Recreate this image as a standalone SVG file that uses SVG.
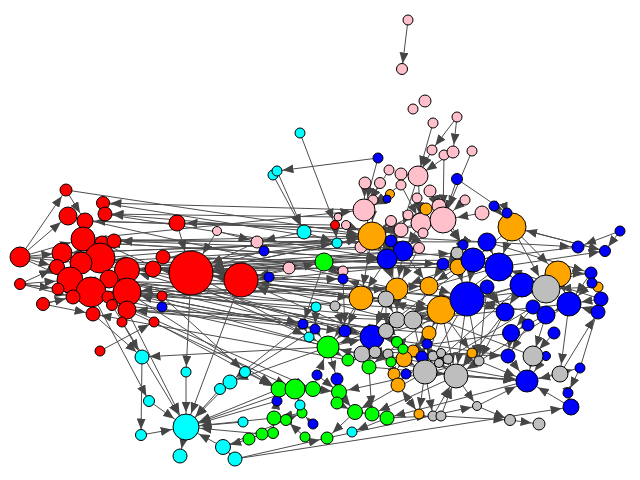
<svg xmlns="http://www.w3.org/2000/svg" width="640" height="480" viewBox="0 0 640 480">
<style>
#edges path{stroke:#4d4d4d;stroke-width:1;fill:none}
.e5{marker-end:url(#a5)}.e7{marker-end:url(#a7)}.e9{marker-end:url(#a9)}.e12{marker-end:url(#a12)}.e14{marker-end:url(#a14)}.e17{marker-end:url(#a17)}.e22{marker-end:url(#a22)}
circle{stroke:#000;stroke-width:1}
.r{fill:#ff0000}.p{fill:#ffc0cb}.b{fill:#0000ff}.o{fill:#ffa500}.g{fill:#bebebe}.n{fill:#00ff00}.c{fill:#00ffff}
marker path{fill:#454545}
</style>
<defs>
<marker id="a5" viewBox="0 0 11 9" markerWidth="11" markerHeight="9" refX="16.5" refY="4.5" orient="auto" markerUnits="userSpaceOnUse"><path d="M0,0L11,4.5L0,9z"/></marker>
<marker id="a7" viewBox="0 0 11 9" markerWidth="11" markerHeight="9" refX="18.5" refY="4.5" orient="auto" markerUnits="userSpaceOnUse"><path d="M0,0L11,4.5L0,9z"/></marker>
<marker id="a9" viewBox="0 0 11 9" markerWidth="11" markerHeight="9" refX="20.5" refY="4.5" orient="auto" markerUnits="userSpaceOnUse"><path d="M0,0L11,4.5L0,9z"/></marker>
<marker id="a12" viewBox="0 0 11 9" markerWidth="11" markerHeight="9" refX="23.5" refY="4.5" orient="auto" markerUnits="userSpaceOnUse"><path d="M0,0L11,4.5L0,9z"/></marker>
<marker id="a14" viewBox="0 0 11 9" markerWidth="11" markerHeight="9" refX="25.5" refY="4.5" orient="auto" markerUnits="userSpaceOnUse"><path d="M0,0L11,4.5L0,9z"/></marker>
<marker id="a17" viewBox="0 0 11 9" markerWidth="11" markerHeight="9" refX="28.5" refY="4.5" orient="auto" markerUnits="userSpaceOnUse"><path d="M0,0L11,4.5L0,9z"/></marker>
<marker id="a22" viewBox="0 0 11 9" markerWidth="11" markerHeight="9" refX="33.5" refY="4.5" orient="auto" markerUnits="userSpaceOnUse"><path d="M0,0L11,4.5L0,9z"/></marker>
</defs>
<rect width="640" height="480" fill="#fff"/>
<g id="edges">
<path class="e9" d="M20 257L68 216"/><path class="e12" d="M20 257L83 239"/><path class="e9" d="M20 257L62 253"/><path class="e12" d="M20 257L81 263"/><path class="e7" d="M20 257L57 267"/><path class="e14" d="M20 257L70 280"/><path class="e14" d="M20 257L100 258"/><path class="e7" d="M20 257L66 190"/>
<path class="e7" d="M20 284L57 267"/><path class="e14" d="M20 284L70 280"/><path class="e7" d="M20 284L58 289"/><path class="e7" d="M20 284L73 297"/><path class="e14" d="M20 284L91 292"/>
<path class="e7" d="M43 304L73 297"/><path class="e14" d="M43 304L91 292"/><path class="e7" d="M43 304L93 314"/><path class="e9" d="M66 190L85 221"/>
<path class="e14" d="M66 190L372 236"/><path class="e7" d="M364 210L103 203"/><path class="e7" d="M372 236L105 214"/><path class="e9" d="M397 289L68 216"/><path class="e9" d="M401 230L85 221"/><path class="e12" d="M337 243L83 239"/><path class="e7" d="M387 259L102 243"/><path class="e7" d="M403 251L114 241"/><path class="e14" d="M467 299L100 258"/><path class="e12" d="M441 310L81 263"/><path class="e12" d="M324 262L127 270"/><path class="e12" d="M345 331L127 270"/><path class="e14" d="M473 260L127 292"/><path class="e14" d="M361 298L100 258"/><path class="e14" d="M372 337L91 292"/><path class="e14" d="M328 347L127 292"/><path class="e9" d="M386 331L109 279"/><path class="e14" d="M397 289L70 280"/><path class="e9" d="M397 320L127 310"/><path class="e7" d="M429 286L108 297"/><path class="e9" d="M386 299L153 269"/><path class="e9" d="M343 279L153 269"/><path class="e12" d="M499 267L127 270"/><path class="e7" d="M487 242L114 241"/><path class="e9" d="M103 203L403 251"/><path class="e9" d="M335 225L177 223"/><path class="e7" d="M338 217L105 214"/><path class="e9" d="M391 241L62 253"/><path class="e12" d="M361 247L81 263"/><path class="e14" d="M315 329L127 292"/><path class="e9" d="M303 324L127 310"/><path class="e14" d="M316 307L91 292"/><path class="e9" d="M335 306L109 279"/><path class="e5" d="M429 333L112 305"/><path class="e7" d="M348 360L93 314"/><path class="e7" d="M362 354L108 297"/><path class="e7" d="M443 264L163 257"/>
<path class="e17" d="M289 268L241 280"/><path class="e17" d="M269 277L241 280"/><path class="e22" d="M264 251L191 273"/><path class="e22" d="M257 242L191 273"/><path class="e22" d="M372 236L191 273"/><path class="e22" d="M387 259L191 273"/><path class="e22" d="M324 262L191 273"/><path class="e22" d="M241 280L191 273"/><path class="e17" d="M372 337L241 280"/><path class="e17" d="M361 298L241 280"/><path class="e22" d="M403 251L191 273"/><path class="e22" d="M443 264L191 273"/>
<path class="e14" d="M100 258L372 236"/><path class="e9" d="M127 270L403 251"/><path class="e9" d="M127 292L413 320"/><path class="e12" d="M91 292L397 289"/><path class="e14" d="M191 273L372 236"/><path class="e9" d="M191 273L387 259"/><path class="e9" d="M241 280L324 262"/><path class="e5" d="M241 280L343 279"/><path class="e14" d="M191 273L441 310"/><path class="e17" d="M191 273L467 299"/><path class="e9" d="M241 280L397 320"/><path class="e12" d="M191 273L328 347"/><path class="e12" d="M100 258L372 337"/><path class="e12" d="M83 239L364 210"/><path class="e12" d="M81 263L473 260"/><path class="e12" d="M70 280L361 298"/><path class="e7" d="M109 279L386 331"/><path class="e7" d="M127 310L345 331"/><path class="e5" d="M127 292L315 329"/><path class="e5" d="M127 270L337 243"/><path class="e9" d="M105 214L387 259"/><path class="e7" d="M85 221L401 230"/><path class="e7" d="M62 253L391 241"/><path class="e9" d="M108 297L429 286"/><path class="e7" d="M163 257L443 264"/><path class="e7" d="M153 269L457 253"/><path class="e14" d="M153 269L499 267"/><path class="e14" d="M127 292L441 310"/><path class="e12" d="M114 241L372 236"/><path class="e9" d="M102 243L387 259"/>
<path class="e22" d="M177 223L191 273"/><path class="e22" d="M217 231L191 273"/><path class="e7" d="M217 231L257 242"/><path class="e7" d="M304 232L257 242"/><path class="e5" d="M100 351L154 322"/><path class="e7" d="M93 314L142 357"/><path class="e5" d="M91 292L149 401"/><path class="e5" d="M142 357L141 435"/><path class="e14" d="M141 435L186 427"/><path class="e14" d="M149 401L186 427"/><path class="e7" d="M122 322L142 357"/><path class="e14" d="M112 305L186 427"/><path class="e14" d="M127 310L186 427"/><path class="e5" d="M191 273L186 372"/><path class="e14" d="M186 372L186 427"/><path class="e14" d="M241 280L186 427"/><path class="e5" d="M162 296L245 372"/><path class="e9" d="M245 372L279 389"/><path class="e14" d="M230 382L186 427"/><path class="e14" d="M220 389L186 427"/><path class="e14" d="M223 447L186 427"/><path class="e7" d="M186 427L180 456"/><path class="e7" d="M235 459L223 447"/><path class="e9" d="M235 459L571 407"/><path class="e14" d="M274 418L186 427"/><path class="e14" d="M279 389L186 427"/><path class="e14" d="M262 434L186 427"/><path class="e14" d="M295 389L186 427"/><path class="e14" d="M243 422L186 427"/><path class="e14" d="M277 401L186 427"/><path class="e7" d="M249 439L223 447"/><path class="e5" d="M223 447L302 413"/><path class="e7" d="M235 459L327 438"/><path class="e7" d="M328 347L142 357"/><path class="e7" d="M303 324L230 382"/><path class="e5" d="M315 329L220 389"/><path class="e7" d="M328 347L230 382"/><path class="e5" d="M154 322L279 389"/><path class="e9" d="M127 292L279 389"/><path class="e9" d="M127 310L295 389"/><path class="e7" d="M91 292L313 389"/><path class="e5" d="M109 279L303 324"/><path class="e5" d="M102 243L309 337"/>
<path class="e5" d="M300 133L335 225"/><path class="e7" d="M273 175L304 232"/><path class="e7" d="M277 171L304 232"/><path class="e5" d="M378 158L277 171"/><path class="e5" d="M304 232L337 243"/><path class="e5" d="M408 20L402 69"/><path class="e5" d="M457 117L432 150"/><path class="e7" d="M457 117L453 152"/><path class="e9" d="M433 123L418 176"/><path class="e14" d="M472 151L443 220"/><path class="e9" d="M453 152L418 176"/><path class="e9" d="M432 150L418 176"/><path class="e14" d="M444 155L443 220"/><path class="e12" d="M378 158L364 210"/><path class="e5" d="M457 179L507 213"/><path class="e12" d="M389 170L364 210"/><path class="e12" d="M365 183L364 210"/><path class="e12" d="M380 183L364 210"/><path class="e9" d="M401 185L421 223"/><path class="e14" d="M430 191L443 220"/><path class="e14" d="M465 200L443 220"/><path class="e14" d="M482 213L443 220"/><path class="e14" d="M443 220L372 236"/><path class="e14" d="M421 223L372 236"/><path class="e9" d="M417 198L421 223"/><path class="e14" d="M439 206L443 220"/><path class="e7" d="M408 215L401 230"/><path class="e14" d="M391 221L372 236"/><path class="e14" d="M426 209L372 236"/><path class="e9" d="M423 233L403 251"/><path class="e9" d="M401 230L387 259"/><path class="e14" d="M364 210L372 236"/><path class="e14" d="M346 225L372 236"/><path class="e9" d="M419 248L403 251"/><path class="e12" d="M387 199L364 210"/><path class="e12" d="M390 194L364 210"/><path class="e14" d="M373 200L372 236"/><path class="e7" d="M391 221L391 241"/><path class="e9" d="M421 223L403 251"/><path class="e12" d="M443 220L473 260"/><path class="e5" d="M443 220L463 245"/><path class="e5" d="M439 206L463 245"/><path class="e14" d="M494 206L512 227"/><path class="e14" d="M507 213L512 227"/><path class="e9" d="M418 176L421 223"/><path class="e9" d="M401 174L418 176"/><path class="e9" d="M457 179L443 220"/><path class="e7" d="M418 176L401 230"/><path class="e12" d="M401 185L364 210"/>
<path class="e9" d="M372 236L387 259"/><path class="e9" d="M372 236L403 251"/><path class="e12" d="M372 236L397 289"/><path class="e12" d="M372 236L361 298"/><path class="e12" d="M403 251L473 260"/><path class="e12" d="M387 259L397 289"/><path class="e17" d="M473 260L467 299"/><path class="e14" d="M512 227L499 267"/><path class="e14" d="M512 227L558 274"/><path class="e14" d="M512 227L546 289"/><path class="e12" d="M512 227L473 260"/><path class="e14" d="M487 242L499 267"/><path class="e7" d="M487 242L578 247"/><path class="e7" d="M487 242L591 273"/><path class="e7" d="M620 231L578 247"/><path class="e5" d="M620 231L605 251"/><path class="e5" d="M499 267L605 251"/><path class="e5" d="M512 227L605 251"/><path class="e7" d="M558 274L591 273"/><path class="e12" d="M558 274L569 304"/><path class="e12" d="M546 289L569 304"/><path class="e12" d="M499 267L522 285"/><path class="e9" d="M522 285L505 312"/><path class="e9" d="M487 287L505 312"/><path class="e9" d="M467 299L505 312"/><path class="e12" d="M467 299L425 372"/><path class="e12" d="M441 310L425 372"/><path class="e12" d="M441 310L456 376"/><path class="e12" d="M467 299L456 376"/><path class="e9" d="M569 304L546 315"/><path class="e12" d="M592 283L569 304"/><path class="e9" d="M443 264L458 267"/><path class="e12" d="M457 253L473 260"/><path class="e12" d="M463 245L473 260"/><path class="e17" d="M458 267L467 299"/><path class="e9" d="M533 307L511 333"/><path class="e9" d="M546 315L511 333"/><path class="e7" d="M528 325L508 356"/><path class="e7" d="M511 333L508 356"/><path class="e9" d="M554 333L533 356"/><path class="e9" d="M546 315L533 356"/><path class="e12" d="M533 356L527 381"/><path class="e12" d="M508 356L527 381"/><path class="e12" d="M546 356L527 381"/><path class="e12" d="M560 374L527 381"/><path class="e7" d="M560 374L598 312"/><path class="e5" d="M580 368L568 393"/><path class="e12" d="M571 407L527 381"/><path class="e9" d="M568 393L571 407"/><path class="e12" d="M477 406L527 381"/><path class="e12" d="M479 361L527 381"/><path class="e12" d="M456 376L527 381"/><path class="e12" d="M425 372L527 381"/><path class="e7" d="M510 420L539 424"/><path class="e5" d="M477 406L510 420"/><path class="e12" d="M433 416L456 376"/><path class="e12" d="M441 416L456 376"/><path class="e7" d="M419 414L398 385"/><path class="e5" d="M327 438L477 406"/><path class="e12" d="M601 299L569 304"/><path class="e12" d="M598 312L569 304"/><path class="e12" d="M591 273L569 304"/><path class="e9" d="M569 304L560 374"/><path class="e12" d="M404 359L527 381"/><path class="e12" d="M369 367L527 381"/><path class="e7" d="M375 352L508 356"/><path class="e5" d="M580 368L601 299"/><path class="e7" d="M527 381L580 368"/>
<path class="e9" d="M397 289L397 320"/><path class="e9" d="M429 286L413 320"/><path class="e9" d="M361 298L386 299"/><path class="e7" d="M386 299L386 331"/><path class="e12" d="M397 320L372 337"/><path class="e7" d="M413 320L429 333"/><path class="e7" d="M441 310L429 333"/><path class="e9" d="M372 337L362 354"/><path class="e12" d="M328 347L372 337"/><path class="e12" d="M345 331L328 347"/><path class="e7" d="M372 337L369 367"/><path class="e7" d="M362 354L348 360"/><path class="e5" d="M375 352L388 354"/><path class="e5" d="M386 331L397 342"/><path class="e7" d="M429 333L413 351"/><path class="e9" d="M413 351L404 359"/><path class="e7" d="M404 359L394 374"/><path class="e12" d="M404 359L425 372"/><path class="e12" d="M422 357L425 372"/><path class="e7" d="M427 344L422 357"/><path class="e12" d="M433 356L425 372"/><path class="e12" d="M441 353L456 376"/><path class="e12" d="M448 359L456 376"/><path class="e12" d="M439 363L456 376"/><path class="e12" d="M472 353L456 376"/><path class="e12" d="M425 372L456 376"/><path class="e7" d="M394 374L398 385"/><path class="e7" d="M406 374L398 385"/><path class="e7" d="M391 362L394 374"/><path class="e9" d="M403 349L404 359"/><path class="e7" d="M369 367L372 414"/><path class="e7" d="M339 392L355 412"/><path class="e7" d="M337 403L355 412"/><path class="e7" d="M355 412L372 414"/><path class="e7" d="M372 414L387 418"/><path class="e7" d="M337 379L339 392"/><path class="e7" d="M317 375L339 392"/><path class="e7" d="M328 347L348 360"/><path class="e7" d="M328 347L337 379"/><path class="e7" d="M313 389L339 392"/><path class="e7" d="M295 389L313 389"/><path class="e9" d="M279 389L295 389"/><path class="e7" d="M302 413L274 418"/><path class="e7" d="M286 420L274 418"/><path class="e7" d="M273 433L274 418"/><path class="e7" d="M262 434L249 439"/><path class="e5" d="M305 437L286 420"/><path class="e5" d="M313 424L302 413"/><path class="e5" d="M387 418L352 432"/><path class="e7" d="M355 412L327 438"/><path class="e9" d="M300 405L295 389"/><path class="e9" d="M277 401L279 389"/><path class="e12" d="M313 389L328 347"/><path class="e5" d="M303 324L309 337"/><path class="e12" d="M315 329L328 347"/><path class="e5" d="M316 307L315 329"/><path class="e7" d="M335 306L345 331"/><path class="e7" d="M343 279L345 331"/><path class="e5" d="M324 262L343 279"/><path class="e14" d="M337 243L372 236"/><path class="e5" d="M335 225L337 243"/><path class="e9" d="M343 271L324 262"/><path class="e5" d="M324 262L303 324"/><path class="e7" d="M361 298L345 331"/><path class="e12" d="M361 298L328 347"/><path class="e12" d="M386 299L372 337"/><path class="e14" d="M413 320L441 310"/><path class="e14" d="M467 299L441 310"/><path class="e17" d="M429 286L467 299"/><path class="e9" d="M458 267L429 286"/><path class="e9" d="M457 253L458 267"/><path class="e7" d="M463 245L457 253"/><path class="e9" d="M443 264L429 286"/><path class="e9" d="M403 251L429 286"/><path class="e12" d="M387 259L361 298"/><path class="e12" d="M403 251L397 289"/><path class="e12" d="M419 248L397 289"/><path class="e9" d="M391 241L387 259"/><path class="e9" d="M386 299L397 320"/><path class="e9" d="M397 320L413 320"/><path class="e12" d="M413 320L425 372"/><path class="e12" d="M413 351L425 372"/><path class="e7" d="M429 333L422 357"/><path class="e5" d="M441 310L472 353"/><path class="e5" d="M467 299L479 361"/><path class="e5" d="M487 287L479 361"/><path class="e5" d="M505 312L479 361"/><path class="e5" d="M456 376L477 406"/><path class="e5" d="M425 372L419 414"/><path class="e5" d="M425 372L433 416"/><path class="e5" d="M387 418L433 416"/><path class="e5" d="M398 385L419 414"/><path class="e5" d="M441 416L510 420"/>
<path class="e12" d="M569 304L456 376"/><path class="e12" d="M522 285L425 372"/><path class="e14" d="M499 267L441 310"/><path class="e14" d="M558 274L441 310"/><path class="e17" d="M546 289L467 299"/><path class="e17" d="M546 315L467 299"/><path class="e12" d="M505 312L456 376"/><path class="e12" d="M533 307L425 372"/><path class="e12" d="M578 247L473 260"/><path class="e14" d="M605 251L512 227"/><path class="e12" d="M591 273L522 285"/><path class="e12" d="M467 299L328 347"/><path class="e7" d="M441 310L369 367"/><path class="e7" d="M456 376L372 414"/><path class="e7" d="M425 372L355 412"/><path class="e7" d="M527 381L387 418"/><path class="e9" d="M499 267L386 299"/><path class="e9" d="M522 285L397 320"/><path class="e12" d="M546 289L372 337"/><path class="e9" d="M569 304L413 320"/><path class="e14" d="M598 287L546 289"/><path class="e12" d="M601 299L499 267"/><path class="e9" d="M533 356L386 299"/><path class="e9" d="M511 333L362 354"/><path class="e12" d="M508 356L372 337"/><path class="e12" d="M473 260L372 337"/><path class="e14" d="M487 242L372 236"/><path class="e14" d="M473 260L397 289"/><path class="e5" d="M441 310L343 279"/><path class="e12" d="M456 376L328 347"/><path class="e7" d="M472 353L348 360"/><path class="e9" d="M479 361L339 392"/>
</g>
<g id="n-R1"><circle class="r" cx="66" cy="190" r="6"/></g>
<g id="n-R2"><circle class="r" cx="103" cy="203" r="6.5"/></g>
<g id="n-R3"><circle class="r" cx="105" cy="214" r="7"/></g>
<g id="n-R4"><circle class="r" cx="68" cy="216" r="9"/></g>
<g id="n-R5"><circle class="r" cx="85" cy="221" r="8"/></g>
<g id="n-R6"><circle class="r" cx="83" cy="239" r="12"/></g>
<g id="n-R7"><circle class="r" cx="102" cy="243" r="7"/></g>
<g id="n-R8"><circle class="r" cx="114" cy="241" r="7"/></g>
<g id="n-R9"><circle class="r" cx="20" cy="257" r="10"/></g>
<g id="n-R10"><circle class="r" cx="62" cy="253" r="10"/></g>
<g id="n-R11"><circle class="r" cx="100" cy="258" r="15"/></g>
<g id="n-R12"><circle class="r" cx="81" cy="263" r="11"/></g>
<g id="n-R13"><circle class="r" cx="57" cy="267" r="7.5"/></g>
<g id="n-R14"><circle class="r" cx="127" cy="270" r="12.5"/></g>
<g id="n-R15"><circle class="r" cx="153" cy="269" r="8"/></g>
<g id="n-R16"><circle class="r" cx="70" cy="280" r="13"/></g>
<g id="n-R17"><circle class="r" cx="109" cy="279" r="9"/></g>
<g id="n-R18"><circle class="r" cx="20" cy="284" r="5.5"/></g>
<g id="n-R19"><circle class="r" cx="91" cy="292" r="15"/></g>
<g id="n-R20"><circle class="r" cx="127" cy="292" r="14"/></g>
<g id="n-R21"><circle class="r" cx="58" cy="289" r="6"/></g>
<g id="n-R22"><circle class="r" cx="73" cy="297" r="7"/></g>
<g id="n-R23"><circle class="r" cx="108" cy="297" r="6"/></g>
<g id="n-R24"><circle class="r" cx="112" cy="305" r="5.5"/></g>
<g id="n-R25"><circle class="r" cx="43" cy="304" r="6.5"/></g>
<g id="n-R26"><circle class="r" cx="127" cy="310" r="9"/></g>
<g id="n-R27"><circle class="r" cx="93" cy="314" r="7"/></g>
<g id="n-R28"><circle class="r" cx="122" cy="322" r="5"/></g>
<g id="n-R29"><circle class="r" cx="154" cy="322" r="5"/></g>
<g id="n-R30"><circle class="r" cx="100" cy="351" r="5"/></g>
<g id="n-R31"><circle class="r" cx="177" cy="223" r="8"/></g>
<g id="n-R32"><circle class="r" cx="191" cy="273" r="22"/></g>
<g id="n-R33"><circle class="r" cx="241" cy="280" r="17"/></g>
<g id="n-R34"><circle class="r" cx="163" cy="257" r="7"/></g>
<g id="n-R35"><circle class="r" cx="162" cy="296" r="5"/></g>
<g id="n-R36"><circle class="r" cx="335" cy="225" r="4.5"/></g>
<g id="n-P1"><circle class="p" cx="408" cy="20" r="5"/></g>
<g id="n-P2"><circle class="p" cx="402" cy="69" r="5.5"/></g>
<g id="n-P3"><circle class="p" cx="413" cy="109" r="5"/></g>
<g id="n-P4"><circle class="p" cx="425" cy="101" r="6"/></g>
<g id="n-P5"><circle class="p" cx="433" cy="123" r="5"/></g>
<g id="n-P6"><circle class="p" cx="457" cy="117" r="5"/></g>
<g id="n-P7"><circle class="p" cx="432" cy="150" r="5"/></g>
<g id="n-P8"><circle class="p" cx="444" cy="155" r="5"/></g>
<g id="n-P9"><circle class="p" cx="453" cy="152" r="6"/></g>
<g id="n-P10"><circle class="p" cx="472" cy="151" r="5"/></g>
<g id="n-P11"><circle class="p" cx="389" cy="170" r="5"/></g>
<g id="n-P12"><circle class="p" cx="401" cy="174" r="6"/></g>
<g id="n-P13"><circle class="p" cx="418" cy="176" r="10"/></g>
<g id="n-P14"><circle class="p" cx="365" cy="183" r="6"/></g>
<g id="n-P15"><circle class="p" cx="380" cy="183" r="5.5"/></g>
<g id="n-P16"><circle class="p" cx="401" cy="185" r="5"/></g>
<g id="n-P17"><circle class="p" cx="430" cy="191" r="6"/></g>
<g id="n-P18"><circle class="p" cx="373" cy="200" r="5"/></g>
<g id="n-P19"><circle class="p" cx="417" cy="198" r="5"/></g>
<g id="n-P20"><circle class="p" cx="439" cy="206" r="7"/></g>
<g id="n-P21"><circle class="p" cx="465" cy="200" r="5"/></g>
<g id="n-P22"><circle class="p" cx="482" cy="213" r="7"/></g>
<g id="n-P23"><circle class="p" cx="364" cy="210" r="11"/></g>
<g id="n-P24"><circle class="p" cx="391" cy="221" r="5.5"/></g>
<g id="n-P25"><circle class="p" cx="408" cy="215" r="5"/></g>
<g id="n-P26"><circle class="p" cx="421" cy="223" r="10"/></g>
<g id="n-P27"><circle class="p" cx="443" cy="220" r="13"/></g>
<g id="n-P28"><circle class="p" cx="401" cy="230" r="7"/></g>
<g id="n-P29"><circle class="p" cx="423" cy="233" r="5"/></g>
<g id="n-P30"><circle class="p" cx="338" cy="217" r="4"/></g>
<g id="n-P31"><circle class="p" cx="346" cy="225" r="4.5"/></g>
<g id="n-P32"><circle class="p" cx="361" cy="247" r="6"/></g>
<g id="n-P33"><circle class="p" cx="419" cy="248" r="5.5"/></g>
<g id="n-P34"><circle class="p" cx="343" cy="271" r="5"/></g>
<g id="n-P35"><circle class="p" cx="217" cy="231" r="4.5"/></g>
<g id="n-P36"><circle class="p" cx="257" cy="242" r="6"/></g>
<g id="n-P37"><circle class="p" cx="289" cy="268" r="6"/></g>
<g id="n-O1"><circle class="o" cx="390" cy="194" r="4.5"/></g>
<g id="n-O2"><circle class="o" cx="426" cy="209" r="6"/></g>
<g id="n-O3"><circle class="o" cx="372" cy="236" r="14"/></g>
<g id="n-O4"><circle class="o" cx="512" cy="227" r="14"/></g>
<g id="n-O5"><circle class="o" cx="458" cy="267" r="8"/></g>
<g id="n-O6"><circle class="o" cx="397" cy="289" r="11"/></g>
<g id="n-O7"><circle class="o" cx="429" cy="286" r="9"/></g>
<g id="n-O8"><circle class="o" cx="361" cy="298" r="12"/></g>
<g id="n-O9"><circle class="o" cx="441" cy="310" r="14"/></g>
<g id="n-O10"><circle class="o" cx="558" cy="274" r="13"/></g>
<g id="n-O11"><circle class="o" cx="598" cy="287" r="5"/></g>
<g id="n-O12"><circle class="o" cx="429" cy="333" r="7"/></g>
<g id="n-O13"><circle class="o" cx="413" cy="351" r="6"/></g>
<g id="n-O14"><circle class="o" cx="404" cy="359" r="8"/></g>
<g id="n-O15"><circle class="o" cx="394" cy="374" r="6"/></g>
<g id="n-O16"><circle class="o" cx="398" cy="385" r="7"/></g>
<g id="n-O17"><circle class="o" cx="419" cy="414" r="5"/></g>
<g id="n-O18"><circle class="o" cx="472" cy="353" r="5"/></g>
<g id="n-B1"><circle class="b" cx="378" cy="158" r="5"/></g>
<g id="n-B2"><circle class="b" cx="387" cy="199" r="4"/></g>
<g id="n-B3"><circle class="b" cx="457" cy="179" r="5.5"/></g>
<g id="n-B4"><circle class="b" cx="494" cy="206" r="5"/></g>
<g id="n-B5"><circle class="b" cx="507" cy="213" r="5"/></g>
<g id="n-B6"><circle class="b" cx="391" cy="241" r="6"/></g>
<g id="n-B7"><circle class="b" cx="403" cy="251" r="10"/></g>
<g id="n-B8"><circle class="b" cx="387" cy="259" r="10"/></g>
<g id="n-B9"><circle class="b" cx="463" cy="245" r="5"/></g>
<g id="n-B10"><circle class="b" cx="473" cy="260" r="12"/></g>
<g id="n-B11"><circle class="b" cx="443" cy="264" r="6"/></g>
<g id="n-B12"><circle class="b" cx="467" cy="299" r="17"/></g>
<g id="n-B13"><circle class="b" cx="487" cy="242" r="9"/></g>
<g id="n-B14"><circle class="b" cx="620" cy="231" r="5"/></g>
<g id="n-B15"><circle class="b" cx="578" cy="247" r="6"/></g>
<g id="n-B16"><circle class="b" cx="605" cy="251" r="5.5"/></g>
<g id="n-B17"><circle class="b" cx="499" cy="267" r="14"/></g>
<g id="n-B18"><circle class="b" cx="591" cy="273" r="6"/></g>
<g id="n-B19"><circle class="b" cx="522" cy="285" r="12"/></g>
<g id="n-B20"><circle class="b" cx="592" cy="283" r="5"/></g>
<g id="n-B21"><circle class="b" cx="487" cy="287" r="7"/></g>
<g id="n-B22"><circle class="b" cx="569" cy="304" r="12"/></g>
<g id="n-B23"><circle class="b" cx="601" cy="299" r="7"/></g>
<g id="n-B24"><circle class="b" cx="533" cy="307" r="7"/></g>
<g id="n-B25"><circle class="b" cx="505" cy="312" r="9"/></g>
<g id="n-B26"><circle class="b" cx="546" cy="315" r="9"/></g>
<g id="n-B27"><circle class="b" cx="598" cy="312" r="7"/></g>
<g id="n-B28"><circle class="b" cx="528" cy="325" r="6"/></g>
<g id="n-B29"><circle class="b" cx="511" cy="333" r="8.5"/></g>
<g id="n-B30"><circle class="b" cx="554" cy="333" r="6"/></g>
<g id="n-B31"><circle class="b" cx="508" cy="356" r="7"/></g>
<g id="n-B32"><circle class="b" cx="546" cy="356" r="4.5"/></g>
<g id="n-B33"><circle class="b" cx="527" cy="381" r="11"/></g>
<g id="n-B34"><circle class="b" cx="580" cy="368" r="5"/></g>
<g id="n-B35"><circle class="b" cx="568" cy="393" r="5"/></g>
<g id="n-B36"><circle class="b" cx="571" cy="407" r="8"/></g>
<g id="n-B37"><circle class="b" cx="343" cy="279" r="5"/></g>
<g id="n-B38"><circle class="b" cx="345" cy="331" r="6"/></g>
<g id="n-B39"><circle class="b" cx="372" cy="337" r="12"/></g>
<g id="n-B40"><circle class="b" cx="427" cy="344" r="5"/></g>
<g id="n-B41"><circle class="b" cx="422" cy="357" r="6"/></g>
<g id="n-B42"><circle class="b" cx="406" cy="374" r="5"/></g>
<g id="n-B43"><circle class="b" cx="337" cy="379" r="6"/></g>
<g id="n-B44"><circle class="b" cx="317" cy="375" r="5"/></g>
<g id="n-B45"><circle class="b" cx="303" cy="324" r="5"/></g>
<g id="n-B46"><circle class="b" cx="315" cy="329" r="5"/></g>
<g id="n-B47"><circle class="b" cx="277" cy="401" r="5"/></g>
<g id="n-B48"><circle class="b" cx="313" cy="424" r="5"/></g>
<g id="n-B49"><circle class="b" cx="264" cy="251" r="5"/></g>
<g id="n-B50"><circle class="b" cx="269" cy="277" r="5"/></g>
<g id="n-B51"><circle class="b" cx="162" cy="307" r="5"/></g>
<g id="n-G1"><circle class="g" cx="457" cy="253" r="6"/></g>
<g id="n-G2"><circle class="g" cx="546" cy="289" r="14"/></g>
<g id="n-G3"><circle class="g" cx="533" cy="356" r="10"/></g>
<g id="n-G4"><circle class="g" cx="560" cy="374" r="8"/></g>
<g id="n-G5"><circle class="g" cx="479" cy="361" r="5"/></g>
<g id="n-G6"><circle class="g" cx="510" cy="420" r="5.5"/></g>
<g id="n-G7"><circle class="g" cx="539" cy="424" r="6"/></g>
<g id="n-G8"><circle class="g" cx="477" cy="406" r="4.5"/></g>
<g id="n-G9"><circle class="g" cx="433" cy="416" r="5"/></g>
<g id="n-G10"><circle class="g" cx="441" cy="416" r="5"/></g>
<g id="n-G11"><circle class="g" cx="456" cy="376" r="12"/></g>
<g id="n-G12"><circle class="g" cx="425" cy="372" r="12"/></g>
<g id="n-G13"><circle class="g" cx="362" cy="354" r="8"/></g>
<g id="n-G14"><circle class="g" cx="375" cy="352" r="6"/></g>
<g id="n-G15"><circle class="g" cx="388" cy="354" r="5"/></g>
<g id="n-G16"><circle class="g" cx="433" cy="356" r="5"/></g>
<g id="n-G17"><circle class="g" cx="441" cy="353" r="4.5"/></g>
<g id="n-G18"><circle class="g" cx="448" cy="359" r="5"/></g>
<g id="n-G19"><circle class="g" cx="439" cy="363" r="4.5"/></g>
<g id="n-G20"><circle class="g" cx="386" cy="331" r="7.5"/></g>
<g id="n-G21"><circle class="g" cx="397" cy="320" r="8"/></g>
<g id="n-G22"><circle class="g" cx="413" cy="320" r="9"/></g>
<g id="n-G23"><circle class="g" cx="386" cy="299" r="8"/></g>
<g id="n-G24"><circle class="g" cx="335" cy="306" r="5"/></g>
<g id="n-N1"><circle class="n" cx="324" cy="262" r="9"/></g>
<g id="n-N2"><circle class="n" cx="328" cy="347" r="11"/></g>
<g id="n-N3"><circle class="n" cx="397" cy="342" r="5.5"/></g>
<g id="n-N4"><circle class="n" cx="403" cy="349" r="5"/></g>
<g id="n-N5"><circle class="n" cx="348" cy="360" r="6"/></g>
<g id="n-N6"><circle class="n" cx="369" cy="367" r="7"/></g>
<g id="n-N7"><circle class="n" cx="391" cy="362" r="5"/></g>
<g id="n-N8"><circle class="n" cx="339" cy="392" r="7.5"/></g>
<g id="n-N9"><circle class="n" cx="337" cy="403" r="6"/></g>
<g id="n-N10"><circle class="n" cx="355" cy="412" r="7.5"/></g>
<g id="n-N11"><circle class="n" cx="372" cy="414" r="7"/></g>
<g id="n-N12"><circle class="n" cx="387" cy="418" r="7"/></g>
<g id="n-N13"><circle class="n" cx="327" cy="438" r="6"/></g>
<g id="n-N14"><circle class="n" cx="279" cy="389" r="8"/></g>
<g id="n-N15"><circle class="n" cx="295" cy="389" r="10"/></g>
<g id="n-N16"><circle class="n" cx="313" cy="389" r="7.5"/></g>
<g id="n-N17"><circle class="n" cx="302" cy="413" r="5"/></g>
<g id="n-N18"><circle class="n" cx="274" cy="418" r="7"/></g>
<g id="n-N19"><circle class="n" cx="286" cy="420" r="5.5"/></g>
<g id="n-N20"><circle class="n" cx="273" cy="433" r="5.5"/></g>
<g id="n-N21"><circle class="n" cx="262" cy="434" r="6"/></g>
<g id="n-N22"><circle class="n" cx="249" cy="439" r="6"/></g>
<g id="n-N23"><circle class="n" cx="305" cy="437" r="5"/></g>
<g id="n-C1"><circle class="c" cx="300" cy="133" r="5"/></g>
<g id="n-C2"><circle class="c" cx="273" cy="175" r="5"/></g>
<g id="n-C3"><circle class="c" cx="277" cy="171" r="5"/></g>
<g id="n-C4"><circle class="c" cx="304" cy="232" r="7"/></g>
<g id="n-C5"><circle class="c" cx="337" cy="243" r="5"/></g>
<g id="n-C6"><circle class="c" cx="316" cy="307" r="5"/></g>
<g id="n-C7"><circle class="c" cx="309" cy="337" r="5"/></g>
<g id="n-C8"><circle class="c" cx="142" cy="357" r="7"/></g>
<g id="n-C9"><circle class="c" cx="149" cy="401" r="5.5"/></g>
<g id="n-C10"><circle class="c" cx="141" cy="435" r="5.5"/></g>
<g id="n-C11"><circle class="c" cx="186" cy="372" r="5"/></g>
<g id="n-C12"><circle class="c" cx="245" cy="372" r="5.5"/></g>
<g id="n-C13"><circle class="c" cx="230" cy="382" r="7"/></g>
<g id="n-C14"><circle class="c" cx="220" cy="389" r="5.5"/></g>
<g id="n-C15"><circle class="c" cx="300" cy="405" r="5"/></g>
<g id="n-C16"><circle class="c" cx="186" cy="427" r="13"/></g>
<g id="n-C17"><circle class="c" cx="243" cy="422" r="5"/></g>
<g id="n-C18"><circle class="c" cx="180" cy="456" r="7"/></g>
<g id="n-C19"><circle class="c" cx="223" cy="447" r="7.5"/></g>
<g id="n-C20"><circle class="c" cx="235" cy="459" r="7"/></g>
<g id="n-C21"><circle class="c" cx="352" cy="432" r="5"/></g>
</svg>
